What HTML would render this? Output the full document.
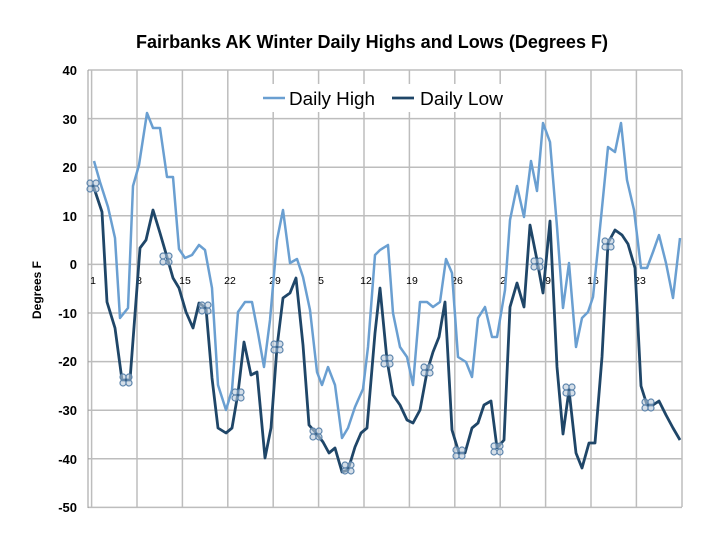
<!DOCTYPE html>
<html><head><meta charset="utf-8"><style>
body{margin:0;background:#fff;}
svg{display:block;font-family:"Liberation Sans",sans-serif;}
</style></head><body>
<svg width="720" height="534" viewBox="0 0 720 534">
<text x="372" y="48" text-anchor="middle" font-size="18" font-weight="bold" fill="#000" textLength="472" lengthAdjust="spacingAndGlyphs">Fairbanks AK Winter Daily Highs and Lows (Degrees F)</text>
<text transform="translate(41,290) rotate(-90)" text-anchor="middle" font-size="12" font-weight="bold">Degrees F</text>
<g stroke="#bdbdbd" stroke-width="1.5">
<line x1="88" y1="70" x2="682" y2="70"/><line x1="88" y1="118.6" x2="682" y2="118.6"/><line x1="88" y1="167.2" x2="682" y2="167.2"/><line x1="88" y1="215.8" x2="682" y2="215.8"/><line x1="88" y1="264.4" x2="682" y2="264.4"/><line x1="88" y1="313" x2="682" y2="313"/><line x1="88" y1="361.6" x2="682" y2="361.6"/><line x1="88" y1="410.2" x2="682" y2="410.2"/><line x1="88" y1="458.8" x2="682" y2="458.8"/><line x1="88" y1="507.4" x2="682" y2="507.4"/>
<line x1="91.6" y1="70" x2="91.6" y2="507"/><line x1="137" y1="70" x2="137" y2="507"/><line x1="182.4" y1="70" x2="182.4" y2="507"/><line x1="227.8" y1="70" x2="227.8" y2="507"/><line x1="273.2" y1="70" x2="273.2" y2="507"/><line x1="318.6" y1="70" x2="318.6" y2="507"/><line x1="364" y1="70" x2="364" y2="507"/><line x1="409.4" y1="70" x2="409.4" y2="507"/><line x1="454.8" y1="70" x2="454.8" y2="507"/><line x1="500.2" y1="70" x2="500.2" y2="507"/><line x1="545.6" y1="70" x2="545.6" y2="507"/><line x1="591" y1="70" x2="591" y2="507"/><line x1="636.4" y1="70" x2="636.4" y2="507"/><line x1="682" y1="70" x2="682" y2="507"/>
</g>
<line x1="88" y1="70" x2="88" y2="508" stroke="#999" stroke-width="1"/>
<g font-size="13" font-weight="bold" text-anchor="end" fill="#000">
<text x="77" y="75">40</text><text x="77" y="124">30</text><text x="77" y="172">20</text><text x="77" y="221">10</text><text x="77" y="269">0</text><text x="77" y="318">-10</text><text x="77" y="366">-20</text><text x="77" y="415">-30</text><text x="77" y="464">-40</text><text x="77" y="512">-50</text>
</g>
<g font-size="10.5" text-anchor="middle" fill="#000">
<text x="93" y="284">1</text><text x="139" y="284">8</text><text x="185" y="284">15</text><text x="230" y="284">22</text><text x="275" y="284">29</text><text x="321" y="284">5</text><text x="366" y="284">12</text><text x="412" y="284">19</text><text x="457" y="284">26</text><text x="503" y="284">2</text><text x="548" y="284">9</text><text x="593" y="284">16</text><text x="640" y="284">23</text>
</g>
<polyline fill="none" stroke="#6a9fd1" stroke-width="2.5" stroke-linejoin="round" points="94,161 100,182 108,207 115,238 120,318 128,308 133,186 139,165 147,113 153,128 160,128 167,177 173,177 179,249 185,258 192,255 199,245 205,250 212,288 218,385 226,410 232,390 238,312 245,302 252,302 258,333 264,367 270,320 277,240 283,210 290,263 297,259 303,277 310,310 317,372 322,385 328,367 335,385 342,438 348,428 355,407 363,389 368,347 375,255 380,250 388,245 393,313 400,347 407,357 413,385 420,302 427,302 433,307 440,302 446,259 452,273 458,357 466,362 472,377 478,318 485,307 492,337 497,337 505,290 510,220 517,186 524,217 531,161 537,191 543,123 550,142 557,227 563,308 569,263 576,347 582,318 588,312 593,297 601,218 608,147 615,152 621,123 627,180 634,210 641,268 647,268 653,252 659,235 666,263 673,298 680,238"/>
<polyline fill="none" stroke="#1f4668" stroke-width="2.8" stroke-linejoin="round" points="93,185 102,212 107,302 115,328 122,380 130,380 140,248 146,240 153,210 160,233 167,257 173,278 179,288 186,312 193,328 199,303 206,308 212,378 218,428 226,433 232,428 238,393 244,342 251,375 257,372 265,458 271,428 277,347 283,298 290,293 296,278 303,345 309,425 316,433 323,442 329,453 335,448 342,472 348,470 355,447 361,433 367,428 375,333 380,288 387,360 393,395 400,405 407,420 413,423 420,410 427,372 433,352 439,337 445,302 452,430 459,453 465,453 472,428 478,423 484,405 491,401 497,448 504,440 510,307 517,283 524,307 530,225 537,260 543,293 550,221 557,367 563,434 569,390 576,453 582,468 589,443 595,443 602,357 608,243 615,230 622,235 628,244 635,268 641,386 647,405 653,405 659,401 666,415 673,428 680,440"/>
<g fill="#b9cadb" fill-opacity="0.6" stroke="#5f86ad" stroke-width="1.2">
<g transform="translate(93,186)"><circle cx="-3" cy="-3" r="3"/><circle cx="3" cy="-3" r="3"/><circle cx="-3" cy="3" r="3"/><circle cx="3" cy="3" r="3"/></g>
<g transform="translate(126,380)"><circle cx="-3" cy="-3" r="3"/><circle cx="3" cy="-3" r="3"/><circle cx="-3" cy="3" r="3"/><circle cx="3" cy="3" r="3"/></g>
<g transform="translate(166,259)"><circle cx="-3" cy="-3" r="3"/><circle cx="3" cy="-3" r="3"/><circle cx="-3" cy="3" r="3"/><circle cx="3" cy="3" r="3"/></g>
<g transform="translate(205,308)"><circle cx="-3" cy="-3" r="3"/><circle cx="3" cy="-3" r="3"/><circle cx="-3" cy="3" r="3"/><circle cx="3" cy="3" r="3"/></g>
<g transform="translate(238,395)"><circle cx="-3" cy="-3" r="3"/><circle cx="3" cy="-3" r="3"/><circle cx="-3" cy="3" r="3"/><circle cx="3" cy="3" r="3"/></g>
<g transform="translate(277,347)"><circle cx="-3" cy="-3" r="3"/><circle cx="3" cy="-3" r="3"/><circle cx="-3" cy="3" r="3"/><circle cx="3" cy="3" r="3"/></g>
<g transform="translate(316,434)"><circle cx="-3" cy="-3" r="3"/><circle cx="3" cy="-3" r="3"/><circle cx="-3" cy="3" r="3"/><circle cx="3" cy="3" r="3"/></g>
<g transform="translate(348,468)"><circle cx="-3" cy="-3" r="3"/><circle cx="3" cy="-3" r="3"/><circle cx="-3" cy="3" r="3"/><circle cx="3" cy="3" r="3"/></g>
<g transform="translate(387,361)"><circle cx="-3" cy="-3" r="3"/><circle cx="3" cy="-3" r="3"/><circle cx="-3" cy="3" r="3"/><circle cx="3" cy="3" r="3"/></g>
<g transform="translate(427,370)"><circle cx="-3" cy="-3" r="3"/><circle cx="3" cy="-3" r="3"/><circle cx="-3" cy="3" r="3"/><circle cx="3" cy="3" r="3"/></g>
<g transform="translate(459,453)"><circle cx="-3" cy="-3" r="3"/><circle cx="3" cy="-3" r="3"/><circle cx="-3" cy="3" r="3"/><circle cx="3" cy="3" r="3"/></g>
<g transform="translate(497,449)"><circle cx="-3" cy="-3" r="3"/><circle cx="3" cy="-3" r="3"/><circle cx="-3" cy="3" r="3"/><circle cx="3" cy="3" r="3"/></g>
<g transform="translate(537,264)"><circle cx="-3" cy="-3" r="3"/><circle cx="3" cy="-3" r="3"/><circle cx="-3" cy="3" r="3"/><circle cx="3" cy="3" r="3"/></g>
<g transform="translate(569,390)"><circle cx="-3" cy="-3" r="3"/><circle cx="3" cy="-3" r="3"/><circle cx="-3" cy="3" r="3"/><circle cx="3" cy="3" r="3"/></g>
<g transform="translate(608,244)"><circle cx="-3" cy="-3" r="3"/><circle cx="3" cy="-3" r="3"/><circle cx="-3" cy="3" r="3"/><circle cx="3" cy="3" r="3"/></g>
<g transform="translate(648,405)"><circle cx="-3" cy="-3" r="3"/><circle cx="3" cy="-3" r="3"/><circle cx="-3" cy="3" r="3"/><circle cx="3" cy="3" r="3"/></g>
</g>
<rect x="258" y="84" width="258" height="28" fill="#fff"/>
<line x1="263" y1="98" x2="285" y2="98" stroke="#6a9fd1" stroke-width="2.5"/>
<text x="289" y="105" font-size="18" fill="#000" textLength="86" lengthAdjust="spacingAndGlyphs">Daily High</text>
<line x1="392" y1="98" x2="414" y2="98" stroke="#1f4668" stroke-width="2.8"/>
<text x="420" y="105" font-size="18" fill="#000" textLength="83" lengthAdjust="spacingAndGlyphs">Daily Low</text>
</svg>
</body></html>
